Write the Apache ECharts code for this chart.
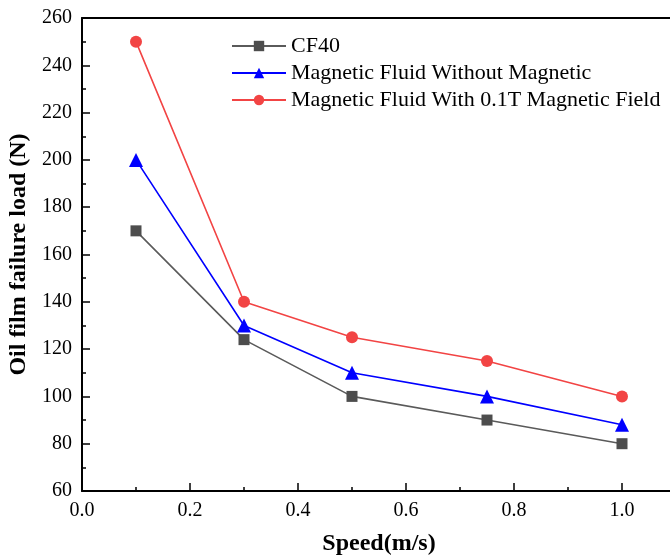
<!DOCTYPE html>
<html><head><meta charset="utf-8">
<script src="https://cdn.jsdelivr.net/npm/echarts@6/dist/echarts.min.js"></script>
<style>html,body{margin:0;padding:0;background:#fff}#c{width:670px;height:559px}</style>
</head><body><div id="c"></div>
<script>
const speed = [0.1, 0.3, 0.5, 0.75, 1.0];
const cf40 = [170, 124, 100, 90, 80];
const mfNoField = [200, 130, 110, 100, 88];
const mfField = [250, 140, 125, 115, 100];
const seriesNames = ['CF40', 'Magnetic Fluid Without Magnetic', 'Magnetic Fluid With 0.1T Magnetic Field'];
const xName = 'Speed(m/s)';
const yName = 'Oil film failure load (N)';

const font = 'Liberation Serif';
const chart = echarts.init(document.getElementById('c'));
function pairs(ys){ return speed.map((x,i)=>[x, ys[i]]); }
chart.setOption({
  animation: false,
  grid: {left: 82, right: -6, top: 18, bottom: 68, outerBoundsMode: 'none', containLabel: false},
  legend: {
    orient: 'vertical', left: 226, top: 30, itemWidth: 54, itemHeight: 13, itemGap: 5,
    textStyle: {fontFamily: font, fontSize: 22, color: '#000'},
    data: seriesNames
  },
  xAxis: [{
    type: 'value', min: 0, max: 1.1, interval: 0.2,
    name: xName, nameLocation: 'middle', nameGap: 41,
    nameTextStyle: {fontFamily: font, fontSize: 24, fontWeight: 'bold', color: '#000'},
    axisLine: {lineStyle: {color: '#000', width: 2}},
    axisTick: {inside: true, length: 8, lineStyle: {width: 1.5, color: '#000'}},
    minorTick: {show: true, splitNumber: 2, length: 4, lineStyle: {width: 1.5, color: '#000'}},
    splitLine: {show: false},
    axisLabel: {fontFamily: font, fontSize: 20, color: '#000', margin: 10, showMaxLabel: false,
      formatter: v => v.toFixed(1)}
  }, {
    type: 'value', position: 'top', min: 0, max: 1.1,
    axisLine: {show: true, lineStyle: {color: '#000', width: 2}},
    axisTick: {show: false}, axisLabel: {show: false}, splitLine: {show: false}
  }],
  yAxis: {
    type: 'value', min: 60, max: 260, interval: 20,
    name: yName, nameLocation: 'middle', nameGap: 45,
    nameTextStyle: {fontFamily: font, fontSize: 24, fontWeight: 'bold', color: '#000'},
    axisLine: {show: true, lineStyle: {color: '#000', width: 2}},
    axisTick: {inside: true, length: 8, lineStyle: {width: 1.5, color: '#000'}},
    minorTick: {show: true, splitNumber: 2, length: 4, lineStyle: {width: 1.5, color: '#000'}},
    splitLine: {show: false},
    axisLabel: {fontFamily: font, fontSize: 20, color: '#000', margin: 10}
  },
  series: [
    {name: seriesNames[0], type: 'line', data: pairs(cf40), symbol: 'rect', symbolSize: 11,
      itemStyle: {color: '#4d4d4d'}, lineStyle: {color: '#5a5a5a', width: 1.6}},
    {name: seriesNames[1], type: 'line', data: pairs(mfNoField), symbol: 'triangle', symbolSize: 14,
      itemStyle: {color: '#0000ff'}, lineStyle: {color: '#0000ff', width: 1.6}},
    {name: seriesNames[2], type: 'line', data: pairs(mfField), symbol: 'circle', symbolSize: 12,
      itemStyle: {color: '#f24444'}, lineStyle: {color: '#f24444', width: 1.6}}
  ]
});
</script></body></html>
